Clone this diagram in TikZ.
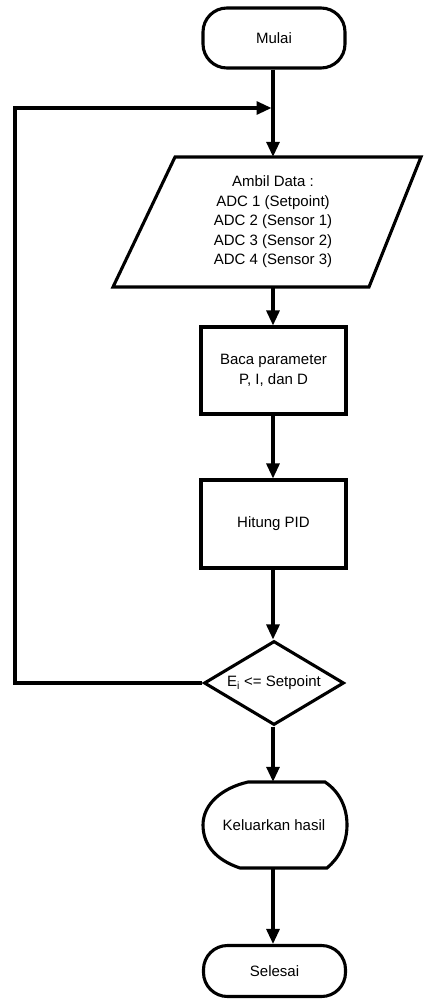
\documentclass[tikz,border=0pt]{standalone}
\usepackage{fontspec}
\setmainfont{Liberation Sans}
\usetikzlibrary{arrows.meta,shapes.geometric}
\begin{document}
\begin{tikzpicture}[x=1pt,y=-1pt,
  every node/.style={font=\fontsize{15}{19.5}\selectfont, align=center},
  lw/.style={line width=3.1pt},
  term/.style={lw, draw, rectangle, rounded corners=24pt, minimum width=142pt, inner sep=0pt},
  procbox/.style={lw, draw, rectangle, minimum width=145pt, inner sep=0pt},
  ghost/.style={rectangle, inner sep=0pt},
  arr/.style={lw, -{Triangle[length=15pt,width=13pt]}},
  ln/.style={lw}]
\useasboundingbox (0,0) rectangle (423,1000);

% Start
\node[term, minimum height=60pt] (mulai) at (274,38) {Mulai};

% Merge point
\coordinate (merge) at (273,108);

% Input parallelogram
\draw[lw, line join=miter] (175,157) -- (421,157) -- (369,287) -- (113,287) -- cycle;
\node[ghost, minimum width=150pt, minimum height=130pt] (input) at (273,222)
  {Ambil Data :\\ADC 1 (Setpoint)\\ADC 2 (Sensor 1)\\ADC 3 (Sensor 2)\\ADC 4 (Sensor 3)};

% Process boxes
\node[procbox, minimum height=87pt] (baca) at (273.5,370.5) {Baca parameter\\P, I, dan D};
\node[procbox, minimum height=88pt] (hitung) at (273.5,524) {Hitung PID};

% Decision
\node[lw, draw, diamond, aspect=1.67, minimum width=140pt, minimum height=84pt, inner sep=0pt] (dec) at (274,683) {E\textsubscript{i} <= Setpoint};

% Output (display shape)
\draw[lw] (248,782) -- (325,782)
  .. controls (340,792) and (347,808) .. (347,825)
  .. controls (347,843) and (339,858) .. (327,868)
  -- (240,868)
  .. controls (216,860) and (203,845) .. (203,825)
  .. controls (203,804) and (222,788) .. (248,782) -- cycle;
\node[ghost, minimum width=144pt, minimum height=86pt] (out) at (274,825) {Keluarkan hasil};

% End
\node[term, minimum height=51pt] (selesai) at (274.5,971) {Selesai};

% Connectors
\draw[ln] (mulai.south -| merge) -- (merge);
\draw[arr] (merge) -- (merge |- input.north);
\draw[arr] (merge |- input.south) -- (merge |- baca.north);
\draw[arr] (merge |- baca.south) -- (merge |- hitung.north);
\draw[arr] (merge |- hitung.south) -- (merge |- dec.north);
\draw[arr] (merge |- dec.south) -- (merge |- out.north);
\draw[arr] (merge |- out.south) -- (merge |- selesai.north);

% Loop back
\coordinate (lb) at (15,683);
\coordinate (lt) at (15,108);
\draw[lw, line join=miter, -{Triangle[length=15pt,width=13pt]}] (dec.west) -- (lb) -- (lt) -- ([xshift=-1.5pt]merge);
\end{tikzpicture}
\end{document}
